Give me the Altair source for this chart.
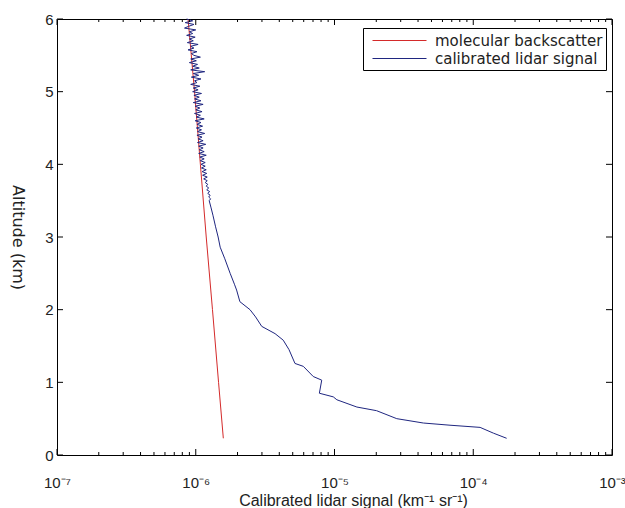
import altair as alt
import pandas as pd

# ---- data ----
mol_alt = [0.23, 1.0, 2.0, 3.0, 4.0, 5.0, 6.0]
mol_val = [1.58e-6, 1.46e-6, 1.32e-6, 1.19e-6, 1.08e-6, 0.98e-6, 0.88e-6]

# upper, noisy part (units of 1e-6)
lid_alt_up = [6.000, 5.975, 5.950, 5.925, 5.900, 5.875, 5.850, 5.825, 5.800, 5.775,
              5.750, 5.725, 5.700, 5.675, 5.650, 5.625, 5.600, 5.575, 5.550, 5.525,
              5.500, 5.475, 5.450, 5.425, 5.400, 5.375, 5.350, 5.325, 5.300, 5.275,
              5.250, 5.225, 5.200, 5.175, 5.150, 5.125, 5.100, 5.075, 5.050, 5.025,
              5.000, 4.975, 4.950, 4.925, 4.900, 4.875, 4.850, 4.825, 4.800, 4.775,
              4.750, 4.725, 4.700, 4.675, 4.650, 4.625, 4.600, 4.575, 4.550, 4.525,
              4.500, 4.475, 4.450, 4.425, 4.400, 4.375, 4.350, 4.325, 4.300, 4.275,
              4.250, 4.225, 4.200, 4.175, 4.150, 4.125, 4.100, 4.075, 4.050, 4.025,
              4.000, 3.975, 3.950, 3.925, 3.900, 3.875, 3.850, 3.825, 3.800, 3.775,
              3.750, 3.725, 3.700, 3.675, 3.650, 3.625, 3.600, 3.575, 3.550, 3.525, 3.500]
lid_val_up = [0.86, 0.95, 0.84, 0.97, 0.89, 0.83, 1.00, 0.90, 0.95, 0.86,
              0.99, 0.90, 0.96, 0.87, 1.04, 0.92, 0.97, 0.88, 1.02, 0.93,
              0.97, 1.08, 0.92, 1.01, 0.90, 1.03, 0.95, 1.06, 0.92, 1.16,
              0.96, 1.05, 0.93, 1.09, 0.98, 1.02, 0.92, 1.07, 0.96, 1.04,
              0.95, 1.10, 0.97, 1.06, 0.98, 1.09, 0.96, 1.13, 0.99, 1.07,
              1.00, 1.11, 0.98, 1.08, 1.01, 1.15, 0.99, 1.09, 1.02, 1.12,
              1.01, 1.10, 1.03, 1.16, 1.02, 1.11, 1.04, 1.13, 1.03, 1.18,
              1.05, 1.13, 1.06, 1.15, 1.05, 1.19, 1.07, 1.15, 1.08, 1.17,
              1.09, 1.17, 1.10, 1.19, 1.11, 1.20, 1.12, 1.21, 1.14, 1.21,
              1.17, 1.22, 1.19, 1.24, 1.20, 1.26, 1.22, 1.27, 1.24, 1.28, 1.25]

# lower part (absolute values)
lid_alt_low = [3.40, 3.30, 3.14, 3.00, 2.86, 2.70, 2.50, 2.35, 2.27, 2.11,
               2.00, 1.90, 1.77, 1.67, 1.58, 1.45, 1.26, 1.22, 1.08, 1.03,
               0.85, 0.80, 0.76, 0.66, 0.61, 0.50, 0.44, 0.41, 0.38, 0.30, 0.23]
lid_val_low = [1.29e-6, 1.33e-6, 1.39e-6, 1.45e-6, 1.50e-6, 1.62e-6, 1.77e-6, 1.90e-6, 1.97e-6, 2.08e-6,
               2.46e-6, 2.70e-6, 2.99e-6, 3.73e-6, 4.27e-6, 4.70e-6, 5.19e-6, 5.96e-6, 7.03e-6, 8.09e-6,
               7.78e-6, 9.8e-6, 1.04e-5, 1.45e-5, 2.01e-5, 2.81e-5, 4.37e-5, 6.8e-5, 1.12e-4, 1.40e-4, 1.74e-4]

series_names = ["molecular backscatter", "calibrated lidar signal"]
series_colors = ["#d42a2a", "#1f2680"]

x_decades = [1e-7, 1e-6, 1e-5, 1e-4, 1e-3]
x_minor = [m * d for d in x_decades[:-1] for m in range(2, 10)]
y_ticks = [0, 1, 2, 3, 4, 5, 6]

# ---- tables ----
lid_alt = lid_alt_up + lid_alt_low
lid_val = [v * 1e-6 for v in lid_val_up] + lid_val_low
df = pd.concat([
    pd.DataFrame({"altitude": mol_alt, "signal": mol_val, "series": series_names[0]}),
    pd.DataFrame({"altitude": lid_alt, "signal": lid_val, "series": series_names[1]}),
])
df_xmaj = pd.DataFrame({"signal": x_decades})
df_xmin = pd.DataFrame({"signal": x_minor})
df_y = pd.DataFrame({"altitude": y_ticks})

W, H = 555, 436
xscale = alt.Scale(type="log", domain=[1e-7, 1e-3], nice=False)
yscale = alt.Scale(domain=[0, 6], nice=False)

label_expr = ("datum.value < 5e-7 ? '10⁻⁷' : datum.value < 5e-6 ? '10⁻⁶' : "
              "datum.value < 5e-5 ? '10⁻⁵' : datum.value < 5e-4 ? '10⁻⁴' : '10⁻³'")

x_axis = alt.Axis(values=x_decades, labelExpr=label_expr, ticks=False, domain=False,
                  grid=False, labelFont="Liberation Sans", labelFontSize=15,
                  labelColor="#222", labelBaseline="alphabetic", labelPadding=32,
                  labelFlush=False,
                  title="Calibrated lidar signal (km⁻¹ sr⁻¹)",
                  titleFont="Liberation Sans", titleFontSize=16, titleFontWeight="normal",
                  titleColor="#222", titleX=296, titleY=50, titleBaseline="alphabetic",
                  titleAlign="center")
y_axis = alt.Axis(values=y_ticks, ticks=False, domain=False, grid=False,
                  labelFont="Liberation Sans", labelFontSize=15, labelColor="#222",
                  labelPadding=4, title="Altitude (km)", titleFont="DejaVu Sans",
                  titleFontSize=16, titleFontWeight="normal", titleColor="#222",
                  titleAngle=90, titleX=-40, titleY=218, titleAlign="center",
                  titleBaseline="middle")

X = alt.X("signal:Q", scale=xscale, axis=x_axis)
Y = alt.Y("altitude:Q", scale=yscale, axis=y_axis)

lines = alt.Chart(df).mark_line(strokeWidth=1).encode(
    x=X, y=Y,
    color=alt.Color("series:N",
                    scale=alt.Scale(domain=series_names, range=series_colors),
                    legend=alt.Legend(title=None, orient="none", legendX=306, legendY=9,
                                      strokeColor="black", fillColor="white", padding=3,
                                      symbolType="M-3,0H3", symbolSize=324,
                                      symbolOffset=24,
                                      symbolStrokeWidth=1, labelFont="DejaVu Sans",
                                      labelFontSize=15, labelColor="#222", labelOffset=26,
                                      rowPadding=0, labelLimit=300)),
    order=alt.Order("altitude:Q"),
)

tick_color = "black"
xmaj_b = alt.Chart(df_xmaj).mark_rule(color=tick_color).encode(
    x=X, y=alt.value(H), y2=alt.value(H - 6))
xmaj_t = alt.Chart(df_xmaj).mark_rule(color=tick_color).encode(
    x=X, y=alt.value(0), y2=alt.value(6))
xmin_b = alt.Chart(df_xmin).mark_rule(color=tick_color).encode(
    x=X, y=alt.value(H), y2=alt.value(H - 3))
xmin_t = alt.Chart(df_xmin).mark_rule(color=tick_color).encode(
    x=X, y=alt.value(0), y2=alt.value(3))
y_l = alt.Chart(df_y).mark_rule(color=tick_color).encode(
    y=Y, x=alt.value(0), x2=alt.value(6))
y_r = alt.Chart(df_y).mark_rule(color=tick_color).encode(
    y=Y, x=alt.value(W), x2=alt.value(W - 6))

chart = alt.layer(lines, xmaj_b, xmaj_t, xmin_b, xmin_t, y_l, y_r).properties(
    width=W, height=H,
    autosize=alt.AutoSizeParams(type="none"),
    padding={"left": 57, "top": 19, "right": 13, "bottom": 53},
    background="white",
).configure_view(stroke="black", strokeWidth=1)

chart.save("out.html", embed_options={"renderer": "svg", "actions": False})
